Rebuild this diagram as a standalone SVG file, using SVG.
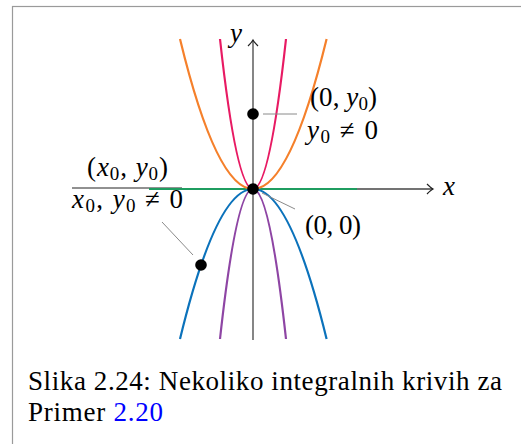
<svg xmlns="http://www.w3.org/2000/svg" width="521" height="444" viewBox="0 0 521 444">
<style>
.math{font-family:"Liberation Serif","DejaVu Serif",serif;font-size:27px;fill:#000}
.it{font-style:italic}
.sub{font-size:19px}
.cap{font-family:"Liberation Serif","DejaVu Serif",serif;font-size:27px;fill:#000}
.axis{stroke:#444;stroke-width:1.3;fill:none}
.curve{fill:none;stroke-width:2.2}
.leader{stroke:#8a8a8a;stroke-width:1;fill:none}
.dot{fill:#000}
</style>
<defs>
<marker id="arr" viewBox="-8 -6 10 12" markerWidth="10" markerHeight="12" refX="0" refY="0" orient="auto" markerUnits="userSpaceOnUse">
<path d="M-6,-5 Q-2,-1 0,0 Q-2,1 -6,5" fill="none" stroke="#222" stroke-width="1.2"/>
</marker>
</defs>
<rect x="12.5" y="6.5" width="700" height="700" fill="#fff" stroke="#9a9a9a" stroke-width="1.2"/>
<g id="axes">
<line class="axis" x1="150" y1="189" x2="433" y2="189" marker-end="url(#arr)"/>
<line class="axis" x1="253" y1="340" x2="253" y2="40" marker-end="url(#arr)"/>
<line x1="72" y1="188" x2="182" y2="188" stroke="#222" stroke-width="1"/>
</g>
<g id="curves">
<path id="green" class="curve" stroke="#1f9d60" stroke-width="2.6" d="M149,189 H357"/>
<path id="orange" class="curve" stroke="#f5802b" d="M180,39 Q253,339 326.6,39"/>
<path id="blue" class="curve" stroke="#0b72bb" d="M180,339 Q253,39 326.6,339"/>
<path id="pink" class="curve" stroke="#e81a63" d="M220,39 Q253,339 286,39"/>
<path id="purple" class="curve" stroke="#8e45a4" d="M220,339 Q253,39 286,339"/>
</g>
<g id="connectors">
<line class="leader" x1="263" y1="114" x2="297" y2="114"/>
<line class="leader" x1="162" y1="222" x2="193" y2="255"/>
<line class="leader" x1="262" y1="193" x2="295" y2="209"/>
</g>
<g id="points">
<circle class="dot" cx="253" cy="114" r="5.8"/>
<circle class="dot" cx="253" cy="189" r="5.8"/>
<circle class="dot" cx="201" cy="265" r="5.8"/>
</g>
<g id="labels">
<text class="math it" x="230" y="42">y</text>
<text class="math it" x="443" y="195">x</text>
<text class="math" x="310" y="106" textLength="67">(0, <tspan class="it">y</tspan><tspan class="sub" dy="4">0</tspan><tspan dy="-4">)</tspan></text>
<text class="math" x="307" y="139" textLength="71"><tspan class="it">y</tspan><tspan class="sub" dy="4">0</tspan><tspan dy="-4"> ≠ 0</tspan></text>
<text class="math" x="87" y="176" textLength="81">(<tspan class="it">x</tspan><tspan class="sub" dy="4">0</tspan><tspan dy="-4">, </tspan><tspan class="it">y</tspan><tspan class="sub" dy="4">0</tspan><tspan dy="-4">)</tspan></text>
<text class="math" x="72" y="208" textLength="111"><tspan class="it">x</tspan><tspan class="sub" dy="4">0</tspan><tspan dy="-4">, </tspan><tspan class="it">y</tspan><tspan class="sub" dy="4">0</tspan><tspan dy="-4"> ≠ 0</tspan></text>
<text class="math" x="305" y="234" textLength="56">(0, 0)</text>
</g>
<g id="caption">
<text class="cap" x="28" y="390" textLength="474">Slika 2.24: Nekoliko integralnih krivih za</text>
<text class="cap" x="28" y="421" textLength="135">Primer <tspan fill="#0000ff">2.20</tspan></text>
</g>
</svg>
